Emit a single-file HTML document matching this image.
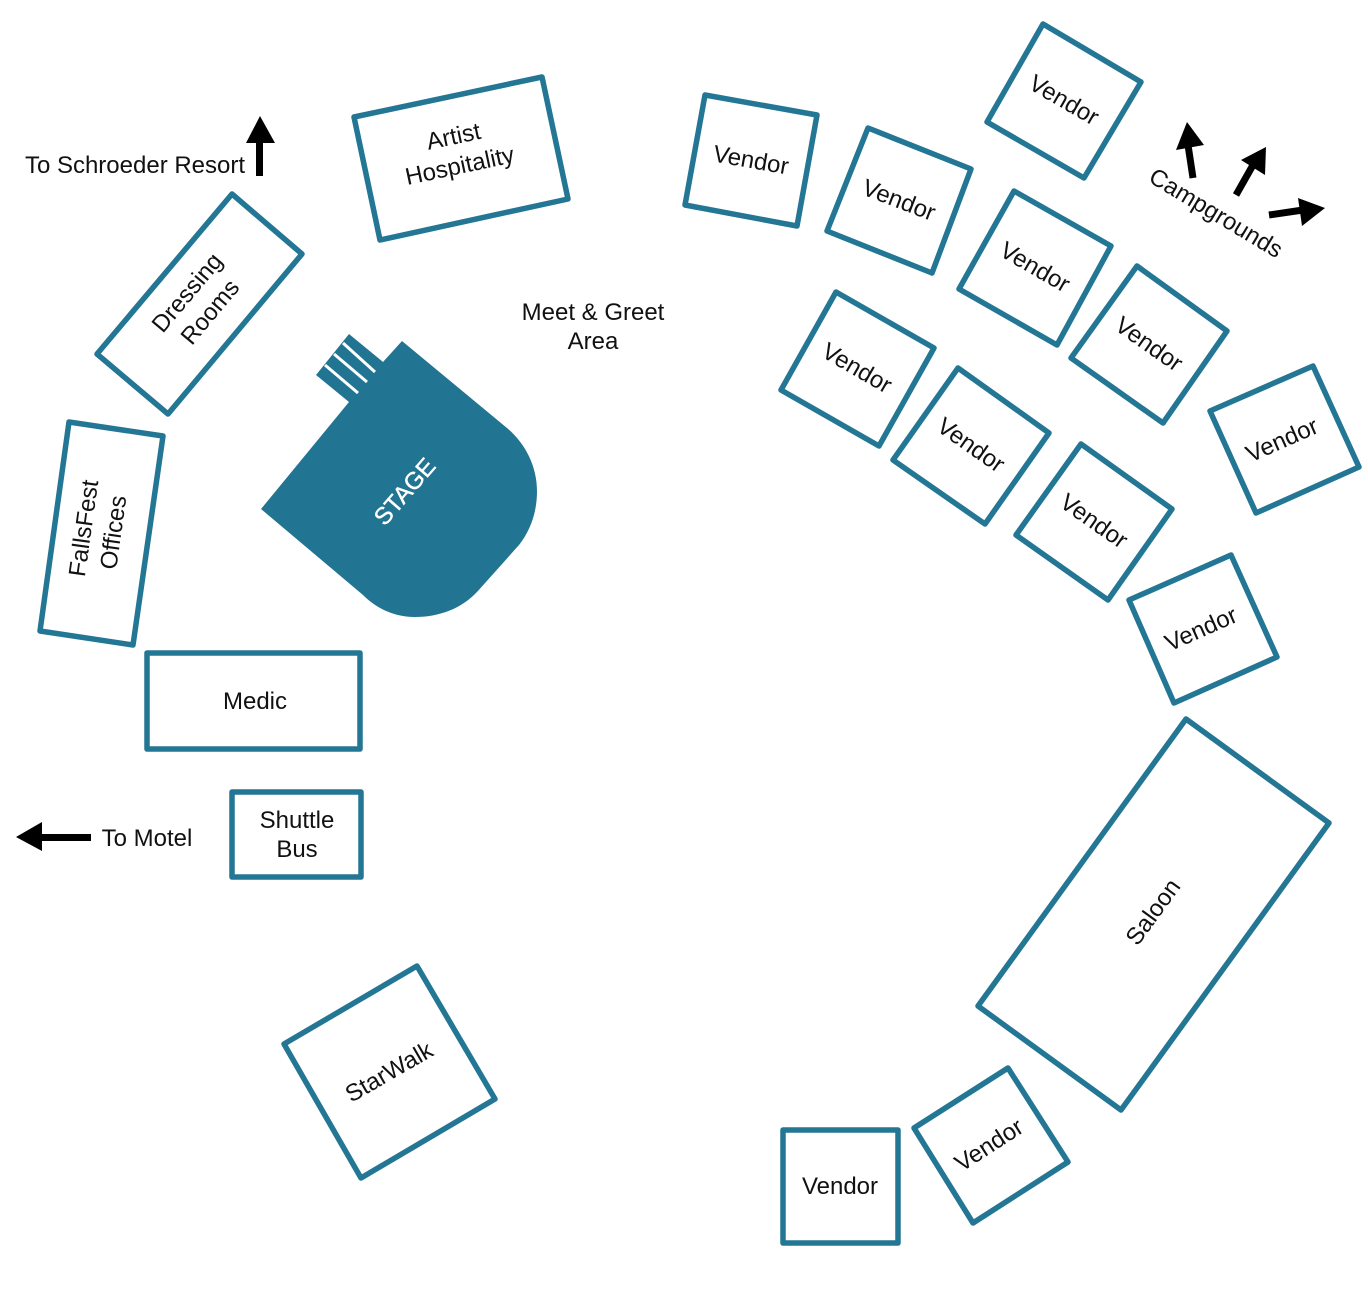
<!DOCTYPE html>
<html><head><meta charset="utf-8"><style>
html,body{margin:0;padding:0;background:#fff;width:1368px;height:1296px;overflow:hidden}
svg{display:block}
text{font-family:"Liberation Sans",sans-serif;font-size:24px;fill:#111;text-anchor:middle}
.b{fill:#fff;stroke:#237694;stroke-width:5.5;stroke-linejoin:round}
</style></head><body>
<svg width="1368" height="1296" viewBox="0 0 1368 1296" xmlns="http://www.w3.org/2000/svg">
<polygon class="b" points="354,117 542,77 568,199 380,240"/>
<polygon class="b" points="705,95 817,115 797,226 685,205"/>
<polygon class="b" points="868,128 971,169 932,273 827,231"/>
<polygon class="b" points="1043,24 1141,82 1084,178 987,122"/>
<polygon class="b" points="1014,191 1111,246 1057,345 959,289"/>
<polygon class="b" points="1137,266 1227,331 1163,423 1071,358"/>
<polygon class="b" points="836,292 934,348 879,446 781,390"/>
<polygon class="b" points="958,368 1049,433 985,524 893,460"/>
<polygon class="b" points="1081,444 1172,509 1108,600 1016,535"/>
<polygon class="b" points="1313,366 1359,467 1256,513 1210,411"/>
<polygon class="b" points="1231,555 1277,657 1174,703 1129,600"/>
<polygon class="b" points="1186,719 1329,823 1121,1110 978,1006"/>
<polygon class="b" points="1008,1068 1068,1162 973,1223 914,1128"/>
<polygon class="b" points="783,1130 898,1130 898,1243 783,1243"/>
<polygon class="b" points="417,966 495,1099 361,1178 284,1044"/>
<polygon class="b" points="232,792 361,792 361,877 232,877"/>
<polygon class="b" points="147,653 360,653 360,749 147,749"/>
<polygon class="b" points="69,422 163,436 133,645 40,631"/>
<polygon class="b" points="232,194 302,254 168,414 97,354"/>

<path d="M402 341 L507 428 C525 443 537 466 537 491 C537 513 530 531 519 545 L477 592 C462 608 440 617 415 617 C395 617 377 609 363 595 L261 509 L349 402 L316 375 L349 334 L383 362 Z" fill="#227493"/>
<g stroke="#fff" stroke-width="3" fill="none">
<line x1="343" y1="343" x2="375" y2="372"/>
<line x1="334" y1="354" x2="367" y2="382"/>
<line x1="325" y1="365" x2="358" y2="393"/>
</g>
<text transform="translate(404 491) rotate(-49)" y="9" style="fill:#fff;font-size:24px;stroke:#fff;stroke-width:.4">STAGE</text>

<g>
<text transform="translate(457 153) rotate(-12)"><tspan x="0" y="-9">Artist</tspan><tspan x="0" y="21">Hospitality</tspan></text>
<text transform="translate(751 160) rotate(10)" y="8">Vendor</text>
<text transform="translate(899 200) rotate(21)" y="8">Vendor</text>
<text transform="translate(1064 100) rotate(30)" y="8">Vendor</text>
<text transform="translate(1035 267) rotate(30)" y="8">Vendor</text>
<text transform="translate(1149 344) rotate(35)" y="8">Vendor</text>
<text transform="translate(857 368) rotate(30)" y="8">Vendor</text>
<text transform="translate(971 445) rotate(35)" y="8">Vendor</text>
<text transform="translate(1094 521) rotate(35)" y="8">Vendor</text>
<text transform="translate(1282 440) rotate(-24)" y="8">Vendor</text>
<text transform="translate(1201 629) rotate(-24)" y="8">Vendor</text>
<text transform="translate(1153 912) rotate(-54)" y="8">Saloon</text>
<text transform="translate(989 1145) rotate(-33)" y="8">Vendor</text>
<text x="840" y="1194">Vendor</text>
<text transform="translate(389 1072) rotate(-30)" y="8">StarWalk</text>
<text x="297" y="828">Shuttle</text>
<text x="297" y="857">Bus</text>
<text x="255" y="709">Medic</text>
<text transform="translate(96.5 530) rotate(-82)"><tspan x="0" y="-5">FallsFest</tspan><tspan x="0" y="25">Offices</tspan></text>
<text transform="translate(197 301) rotate(-50)"><tspan x="0" y="-5">Dressing</tspan><tspan x="0" y="25">Rooms</tspan></text>
<text x="593" y="320">Meet &amp; Greet</text>
<text x="593" y="349">Area</text>
<text x="135" y="173">To Schroeder Resort</text>
<text x="147" y="846">To Motel</text>
<text transform="translate(1216 213) rotate(31)" y="8">Campgrounds</text>
</g>

<g fill="#000" stroke="none">
<rect x="256" y="138" width="7" height="38"/>
<polygon points="260,116 275,143 246,143"/>
<rect x="40" y="834" width="51" height="7"/>
<polygon points="16,837 42,822 42,851"/>
<polygon points="1187,122 1204,145 1176,150"/>
<line x1="1188" y1="145" x2="1193" y2="178" stroke="#000" stroke-width="7"/>
<polygon points="1266,147 1265,175 1241,160"/>
<line x1="1253" y1="165" x2="1236" y2="195" stroke="#000" stroke-width="7"/>
<polygon points="1325,208 1302,226 1298,198"/>
<line x1="1303" y1="210" x2="1269" y2="215" stroke="#000" stroke-width="7"/>
</g>
</svg>
</body></html>
